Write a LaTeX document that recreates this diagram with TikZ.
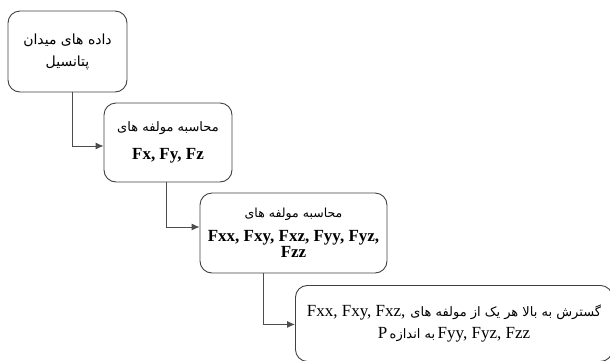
\documentclass[tikz,border=0pt]{standalone}
\usepackage{fontspec}
\setmainfont{Liberation Serif}
\newfontfamily\fa[Script=Arabic]{DejaVu Sans}
\TeXXeTstate=1
\usetikzlibrary{arrows.meta}
\begin{document}
\begin{tikzpicture}[x=1pt,y=-1pt,
  box/.style={draw=black!75, line width=0.9pt, rounded corners=12pt, align=center, inner sep=0pt},
  conn/.style={draw=black!70, line width=0.9pt, -{Latex[length=8pt,width=7pt]}}]
\useasboundingbox (0,0) rectangle (610,360);
\node[box, minimum width=119pt, minimum height=81pt, font=\fontsize{14}{22}\selectfont\fa] (b1) at (67.5,51.5)
  {\beginR داده های میدان\endR\\\beginR پتانسیل\endR};
\node[box, minimum width=128pt, minimum height=79pt] (b2) at (168,142.5)
  {{\fontsize{13}{14}\selectfont\fa\beginR محاسبه مولفه های\endR}\\[12pt]
   {\fontsize{17}{18}\selectfont\bfseries Fx, Fy, Fz}};
\node[box, minimum width=187pt, minimum height=80pt] (b3) at (293.5,233)
  {{\fontsize{12.5}{14}\selectfont\fa\beginR محاسبه مولفه های\endR}\\[9pt]
   {\fontsize{17}{16}\selectfont\bfseries Fxx, Fxy, Fxz, Fyy, Fyz,}\\
   {\fontsize{17}{16}\selectfont\bfseries Fzz}};
\node[box, minimum width=317pt, minimum height=76pt, anchor=north west] (b4) at (295,285)
  {{\fontsize{17}{16}\selectfont Fxx, Fxy, Fxz,}\ \ {\fontsize{13}{14}\selectfont\fa\beginR گسترش به بالا هر یک از مولفه های\endR}\\[6pt]
   {\fontsize{17}{16}\selectfont P} {\fontsize{13}{14}\selectfont\fa\beginR به اندازه\endR} {\fontsize{17}{16}\selectfont Fyy, Fyz, Fzz}};
\draw[conn] ([xshift=4.5pt]b1.south) |- ([yshift=-3.5pt]b2.west);
\draw[conn] ([xshift=-2pt]b2.south) |- ([yshift=6pt]b3.west);
\draw[conn] ([xshift=-30.5pt]b3.south) |- ([yshift=-1pt]b4.west);
\end{tikzpicture}
\end{document}
